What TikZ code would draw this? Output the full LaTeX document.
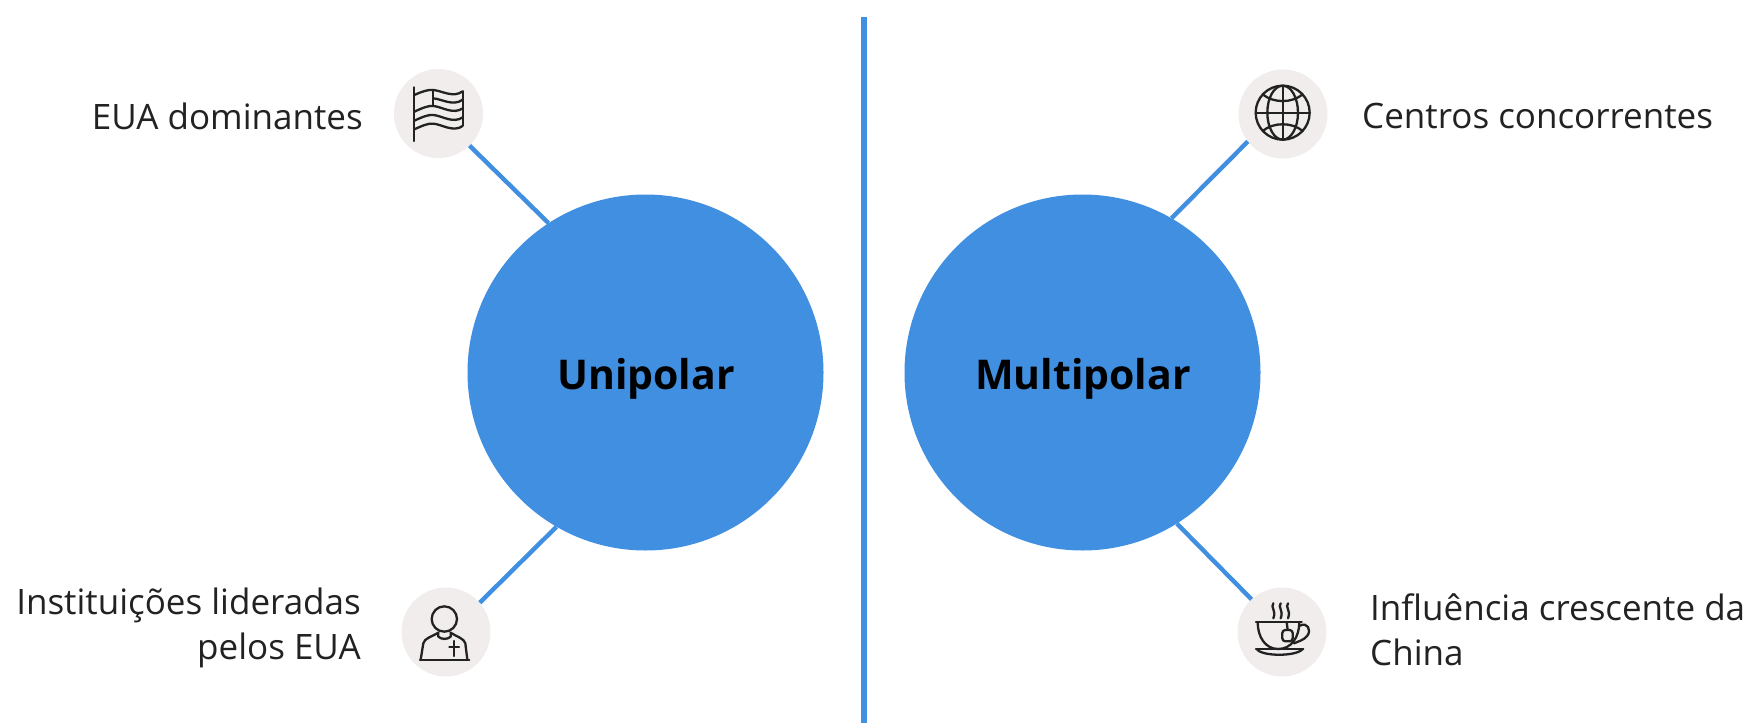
\documentclass[tikz,border=0pt]{standalone}
\usepackage{fontspec}
\setmainfont{Open Sans}
\definecolor{blu}{HTML}{418FE0}
\definecolor{pale}{HTML}{F0EDEC}
\definecolor{ink}{HTML}{222222}
\tikzset{
  bigc/.style={circle,fill=blu,minimum size=356pt,inner sep=0pt},
  biglab/.style={font=\fontsize{41}{41}\selectfont\bfseries,text=black,inner sep=0pt},
  smallc/.style={circle,fill=pale,minimum size=89pt,inner sep=0pt},
  link/.style={draw=blu,line width=4.4pt},
  lab/.style={font=\fontsize{35}{45}\selectfont,text=ink,inner sep=0pt},
  icon/.style={draw=ink,line width=2.3pt,line join=round,line cap=round},
}
\begin{document}
\begin{tikzpicture}[x=1pt,y=-1pt]
\useasboundingbox (0,0) rectangle (1758,723);
\fill[white] (0,0) rectangle (1758,723);
\coordinate (dtop) at (864,17);
\coordinate (dbot) at (864,723);
\draw[blu,line width=6pt] (dtop) -- (dbot);
\node[bigc] (uni) at (645.5,372.5) {};
\node[bigc] (multi) at (1082.5,372.5) {};
\node[biglab] (unilab) at (646,379) {Unipolar};
\node[biglab] (multilab) at (1083,379) {Multipolar};
\node[smallc] (flag) at (438.5,113.5) {};
\node[smallc] (globe) at (1283,114) {};
\node[smallc] (priest) at (446,632) {};
\node[smallc] (cup) at (1282,632) {};
\draw[link] (flag.-46.8) -- (uni.123);
\draw[link] (globe.218.7) -- (multi.60.7);
\draw[link] (priest.41.3) -- (uni.240.3);
\draw[link] (cup.133.2) -- (multi.-58.7);
\node[lab,anchor=east] (t1) at (363,116) {EUA dominantes};
\node[lab,anchor=west] (t2) at (1362,116) {Centros concorrentes};
\node[lab,anchor=east,align=right] (t3) at (361,628) {Instituições lideradas\\pelos EUA};
\node[lab,anchor=west,align=left] (t4) at (1370,630) {Influência crescente da\\China};
% flag
\begin{scope}[shift={(380,50)},x=0.3333pt,y=-0.3333pt,icon]
\draw (103,112) -- (103,273);
\draw (248,124) -- (248,226);
\draw (160,120) -- (160,168);
\draw (103,135) .. controls (125,125) and (145,118) .. (160,120) .. controls (185,122) and (220,145) .. (248,124);
\draw (160,145) .. controls (185,147) and (220,170) .. (248,149);
\draw (103,185) .. controls (125,175) and (145,166) .. (160,168) .. controls (185,170) and (220,195) .. (248,175);
\draw (103,212) .. controls (125,202) and (145,193) .. (160,195) .. controls (185,197) and (220,222) .. (248,202);
\draw (103,238) .. controls (125,228) and (145,219) .. (160,221) .. controls (185,223) and (220,248) .. (248,228);
\end{scope}
% globe
\begin{scope}[shift={(1220,55)},x=0.3333pt,y=-0.3333pt,icon]
\draw (188,173) circle[radius=81];
\draw (188,173) ellipse[x radius=46,y radius=81];
\draw (188,92) -- (188,254);
\draw (107,173) -- (269,173);
\draw (128,118) .. controls (160,145) and (216,145) .. (248,118);
\draw (128,228) .. controls (160,201) and (216,201) .. (248,228);
\end{scope}
% priest
\begin{scope}[shift={(390,575)},x=0.3333pt,y=-0.3333pt,icon]
\draw (163,132) circle[radius=38];
\draw (90,254) -- (238,254);
\draw (92,254) -- (100,205) .. controls (103,190) and (125,185) .. (145,173);
\draw (232,254) -- (226,205) .. controls (222,190) and (200,185) .. (182,173);
\draw (145,173) -- (145,185) .. controls (155,194) and (172,194) .. (182,185) -- (182,173);
\draw (192,198) -- (192,243);
\draw (178,215) -- (207,215);
\end{scope}
% cup
\begin{scope}[shift={(1220,575)},x=0.3333pt,y=-0.3333pt,icon]
\draw (108,141) -- (245,141);
\draw (113,141) .. controls (113,185) and (135,222) .. (175,222) .. controls (215,222) and (238,185) .. (238,141);
\draw (240,152) .. controls (262,140) and (275,165) .. (262,182) .. controls (252,195) and (238,198) .. (222,205);
\draw (108,222) -- (250,222);
\draw (110,222) .. controls (125,245) and (230,245) .. (248,222);
\draw (200,141) -- (203,165);
\draw[rounded corners=3pt,fill=pale] (187,165) -- (218,165) -- (218,199) -- (187,199) -- cycle;
\draw (160,85) .. controls (150,97) and (170,105) .. (160,130);
\draw (182,85) .. controls (172,97) and (192,105) .. (182,130);
\draw (204,85) .. controls (194,97) and (214,105) .. (204,130);
\end{scope}
\end{tikzpicture}
\end{document}
